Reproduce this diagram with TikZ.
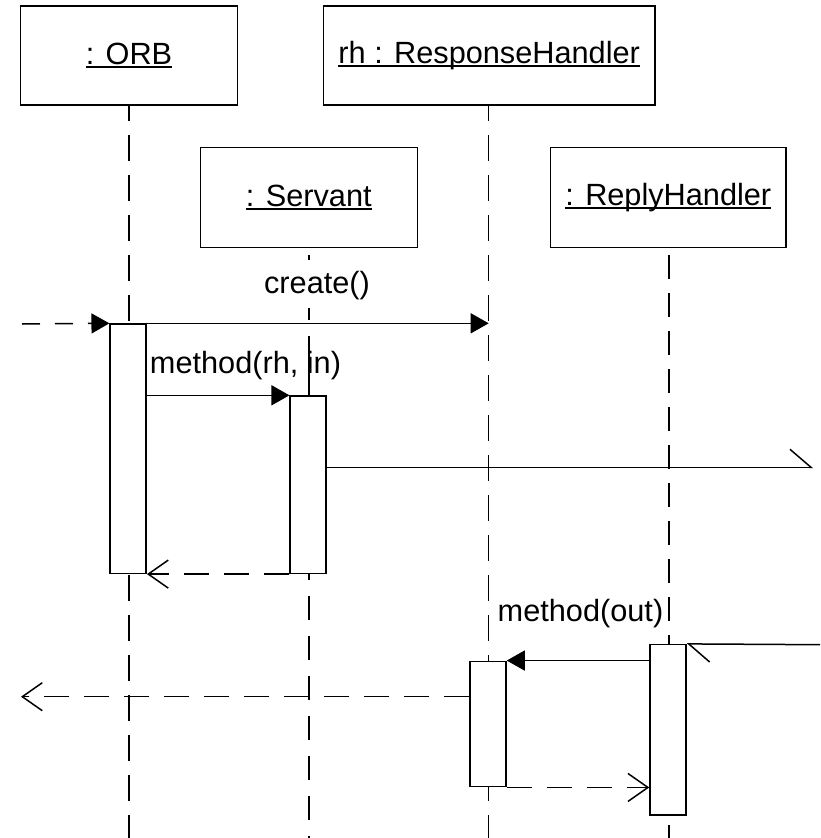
\documentclass[tikz,border=0pt]{standalone}
\usepackage{fontspec}
\setmainfont{Liberation Sans}
\usetikzlibrary{arrows.meta}
% underlined object name with a fixed rule offset
\newcommand\objname[1]{\setbox0\hbox{#1}\rlap{\rule[-3.6pt]{\wd0}{1.5pt}}\box0}
\tikzset{
  obj/.style={draw, line width=1.5pt, fill=white, inner sep=0pt},
  actbar/.style={draw, line width=1.5pt, fill=white, inner sep=0pt, minimum width=36pt},
  lifeline/.style={line width=1.5pt, dash pattern=on 26pt off 14pt, dash phase=11pt},
  call/.style={line width=1.5pt, -{Triangle[length=18pt,width=20pt]}},
  asyncmsg/.style={line width=1.5pt, -{Straight Barb[harpoon,length=21pt,width=36pt,line width=1.5pt]}},
  reply/.style={line width=1.5pt, dash pattern=on 25pt off 15pt, -{Straight Barb[length=20pt,width=28pt,line width=1.5pt]}},
  lbl/.style={inner sep=0pt, anchor=base}
}
\begin{document}
\begin{tikzpicture}[x=1pt, y=-1pt, font=\fontsize{30.7}{36}\selectfont]
\useasboundingbox (0,0) rectangle (820,838);

% object boxes
\node[obj, minimum width=216.6pt, minimum height=99.3pt] (orb) at (129,55.4) {};
\node[inner sep=0pt] at (orb.center) {\objname{: ORB}};
\node[obj, minimum width=331.7pt, minimum height=99.3pt] (rh) at (489.2,55.4) {};
\node[inner sep=0pt] at (rh.center) {\objname{rh : ResponseHandler}};
\node[obj, minimum width=217pt, minimum height=100pt] (serv) at (308.8,197.3) {};
\node[inner sep=0pt] at (serv.center) {\objname{: Servant}};
\node[obj, minimum width=235.3pt, minimum height=100pt] (reph) at (668.3,197.3) {};
\node[inner sep=0pt] at (reph.center) {\objname{: ReplyHandler}};

% lifelines
\coordinate (orbEnd) at (129,838);
\coordinate (servTop) at (309,255);
\coordinate (servMid) at (309,396);
\coordinate (servEnd) at (309,838);
\coordinate (rhEnd) at (488.7,838);
\coordinate (rephTop) at (669,255);
\coordinate (rephEnd) at (669,838);
\draw[lifeline] (orb.south -| orbEnd) -- (orbEnd);
\draw[lifeline] (rh.south -| rhEnd) -- (rhEnd);
\draw[line width=1.5pt, dash pattern=on 5pt off 48pt on 12pt off 16pt on 70pt] (servTop) -- (servMid);
\draw[line width=1.5pt, dash pattern=on 24pt off 16pt] (servMid) -- (servEnd);
\draw[line width=1.5pt, dash pattern=on 24pt off 14pt] (rephTop) -- (rephEnd);

% activation bars
\node[actbar, minimum height=249.3pt] (orbbar) at (128.2,448.7) {};
\node[actbar, minimum height=177.3pt] (servbar) at (308.2,484.7) {};
\node[actbar, minimum height=125.4pt] (rhbar) at (488,724) {};
\node[actbar, minimum height=170.3pt] (rephbar) at (668,729.8) {};

% free message ends
\coordinate (inL) at (22,324);
\coordinate (outR) at (813,467.3);
\coordinate (backL) at (21,696.7);
\coordinate (inR) at (820,644.7);

% messages
\draw[line width=1.5pt, dash pattern=on 18pt off 15pt, -{Triangle[length=18pt,width=20pt]}] (inL) -- (orbbar.north west);
\draw[call] (orbbar.north west) -- (orbbar.north west -| rhEnd);
\node[lbl] (createlbl) at (317,293) {create()};
\draw[call] (servbar.north west -| orbbar.east) -- (servbar.north west);
\node[lbl] (m1lbl) at (245.5,373) {method(rh, in)};
\draw[asyncmsg] (outR -| servbar.east) -- (outR);
\draw[reply] (servbar.south west) -- (servbar.south west -| orbbar.east);
\draw[asyncmsg] (inR) -- (rephbar.north east);
\draw[call] (rhbar.north east -| rephbar.west) -- (rhbar.north east);
\node[lbl] (m2lbl) at (580.5,621.7) {method(out)};
\draw[reply] (backL -| rhbar.west) -- (backL);
\draw[reply] (rhbar.south east) -- (rhbar.south east -| rephbar.west);
\end{tikzpicture}
\end{document}
